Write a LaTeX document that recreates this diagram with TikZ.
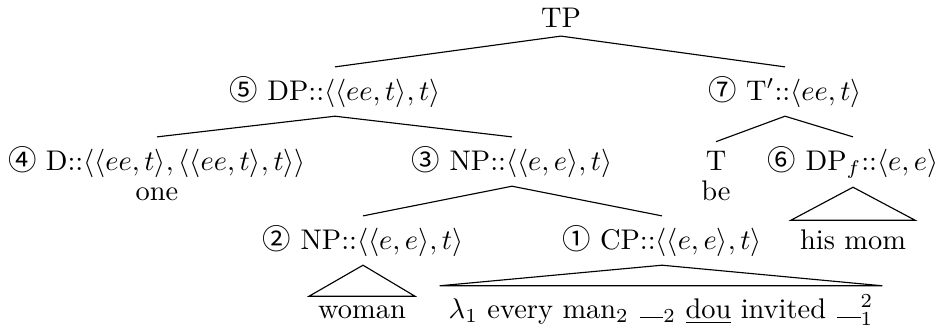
\documentclass[tikz,border=0pt]{standalone}
\usepackage{fontspec}
\newfontfamily\circfont{Noto Sans CJK SC}
\usepackage{amsmath, amssymb}
\usepackage{tikz}
\usetikzlibrary{positioning}

\newcommand{\cnum}[1]{{\circfont #1}}
% Luecke: ein Strich auf der Grundlinie
\newcommand{\gap}{\leavevmode\kern.06em\vbox{\hrule width.82em}}

\begin{document}
\begin{tikzpicture}[x=0.352pt, y=-0.352pt]
    \useasboundingbox (0,0) rectangle (940,329);
    \tikzset{cat/.style={anchor=base, inner sep=3pt}}
    % Wurzel und erste Ebene
    \node[cat] (tp)  at (561,27)  {TP};
    \node[cat] (dp5) at (335,100) {\cnum{⑤} DP::$\langle\langle ee,t\rangle,t\rangle$};
    \node[cat] (t7)  at (785,100) {\cnum{⑦} T$'$::$\langle ee,t\rangle$};
    % zweite Ebene
    \node[cat] (d4)  at (157,170) {\cnum{④} D::$\langle\langle ee,t\rangle,\langle\langle ee,t\rangle,t\rangle\rangle$};
    \node[cat] (one) at (157,200) {one};
    \node[cat] (np3) at (512,170) {\cnum{③} NP::$\langle\langle e,e\rangle,t\rangle$};
    \node[cat] (t)   at (716,170) {T};
    \node[cat] (be)  at (716,200) {be};
    \node[cat] (dp6) at (853,170) {\cnum{⑥} DP$_f$::$\langle e,e\rangle$};
    % dritte Ebene
    \node[cat] (np2) at (363,249) {\cnum{②} NP::$\langle\langle e,e\rangle,t\rangle$};
    \node[cat] (cp1) at (662,249) {\cnum{①} CP::$\langle\langle e,e\rangle,t\rangle$};
    \node[cat] (mom) at (853,249) {his mom};
    % Blaetter
    \node[cat] (woman) at (362,318) {woman};
    \node[cat] (rel)   at (661,318) {$\lambda_1$ every man$_2$ \gap$_2$ \underline{dou} invited \gap$^2_1$};
    % Kanten
    \draw (tp.south) -- (dp5.north);
    \draw (tp.south) -- (t7.north);
    \draw (dp5.south) -- (d4.north);
    \draw (dp5.south) -- (np3.north);
    \draw (t7.south) -- (t.north);
    \draw (t7.south) -- (dp6.north);
    \draw (np3.south) -- (np2.north);
    \draw (np3.south) -- (cp1.north);
    % Dreiecke
    \draw (dp6.south) -- (mom.north west) -- (mom.north east) -- cycle;
    \draw (np2.south) -- (woman.north west) -- (woman.north east) -- cycle;
    \draw (cp1.south) -- (rel.north west) -- (rel.north east) -- cycle;
\end{tikzpicture}
\end{document}
